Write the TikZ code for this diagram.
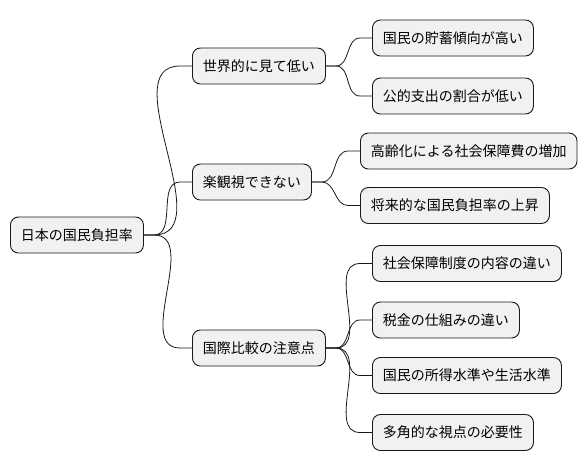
\documentclass[tikz,border=0pt]{standalone}
\usepackage{fontspec}
\setmainfont{Noto Sans CJK JP}
\usetikzlibrary{calc}
\definecolor{topicfill}{HTML}{F1F1F1}
\definecolor{topicline}{HTML}{181818}

\begin{document}
\begin{tikzpicture}[
  x=1pt, y=-1pt,
  font=\fontsize{14}{16}\selectfont,
  topic/.style={rectangle, rounded corners=8pt, draw=topicline, line width=0.9pt,
                fill=topicfill, minimum height=36pt, inner xsep=10.5pt, anchor=west},
  link/.style ={draw=topicline, line width=0.8pt},
]
\useasboundingbox (0,0) rectangle (586,471);

% ---------------- root ----------------
\node[topic] (root) at (10,235) {日本の国民負担率};

% ---------------- first level ----------------
\node[topic] (low)  at (192,66)  {世界的に見て低い};
\node[topic] (hard) at (192,182) {楽観視できない};
\node[topic] (note) at (192,348) {国際比較の注意点};

% ---------------- second level ----------------
\node[topic] (save)   at (372,38)    {国民の貯蓄傾向が高い};
\node[topic] (public) at (372,96)    {公的支出の割合が低い};
\node[topic] (aging)  at (360,151)   {高齢化による社会保障費の増加};
\node[topic] (rise)   at (360,205.5) {将来的な国民負担率の上昇};
\node[topic] (system) at (372,263.5) {社会保障制度の内容の違い};
\node[topic] (tax)    at (372,320)   {税金の仕組みの違い};
\node[topic] (income) at (372,375.5) {国民の所得水準や生活水準};
\node[topic] (view)   at (372,432.5) {多角的な視点の必要性};

% ---------------- links ----------------
\foreach \p/\c in {root/low, root/hard, root/note,
                   low/save, low/public, hard/aging, hard/rise,
                   note/system, note/tax, note/income, note/view}
  \draw[link] (\p.east) -- ++(10,0) to[out=0, in=180]
    ($(\c.west)+(-12,0)$) -- (\c.west);

\end{tikzpicture}
\end{document}
